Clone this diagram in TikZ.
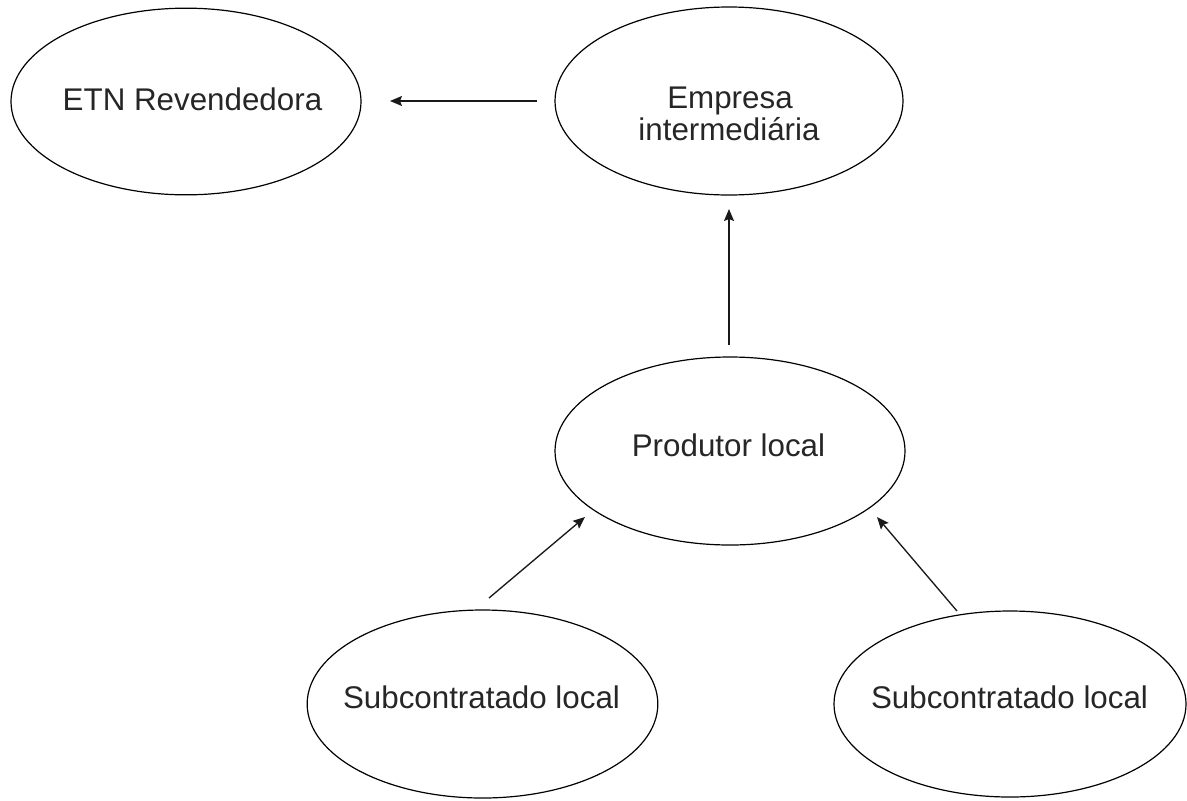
\documentclass[tikz,border=0pt]{standalone}
\usepackage{fontspec}
\setmainfont{Liberation Sans}
\usetikzlibrary{shapes.geometric,arrows.meta}
\begin{document}
\begin{tikzpicture}[x=0.75pt,y=-0.75pt,
  ell/.style={draw=black,line width=0.9pt,ellipse,inner sep=0pt},
  lbl/.style={anchor=base,inner sep=0pt,font=\fontsize{23.5}{24}\selectfont,text=black!85},
  arr/.style={draw=black!90,line width=1pt,-{Stealth[length=9pt,width=7.5pt,inset=1.5pt]}}]
\useasboundingbox (0,0) rectangle (1187,800);
\node[ell,minimum width=262.5pt,minimum height=140pt] (etn) at (186,101.5) {};
\node[ell,minimum width=261pt,minimum height=141pt] (emp) at (729,101) {};
\node[ell,minimum width=262.5pt,minimum height=141pt] (prod) at (730,451) {};
\node[ell,minimum width=263pt,minimum height=141pt] (sub1) at (482.5,704) {};
\node[ell,minimum width=264pt,minimum height=139.5pt] (sub2) at (1010,704) {};
\node[lbl] (tetn) at (192.5,110) {ETN Revendedora};
\node[lbl] (temp1) at (730,108) {Empresa};
\node[lbl] (temp2) at (729,140) {intermediária};
\node[lbl] (tprod) at (728.5,456) {Produtor local};
\node[lbl] (tsub1) at (481.5,708) {Subcontratado local};
\node[lbl] (tsub2) at (1009.5,708) {Subcontratado local};
\coordinate (a1s) at (537,101);
\coordinate (a1e) at (390,101);
\coordinate (a2s) at (729,345);
\coordinate (a2e) at (729,209);
\coordinate (a3s) at (489,598);
\coordinate (a3e) at (585,517);
\coordinate (a4s) at (957,611);
\coordinate (a4e) at (877,517);
\draw[arr] (a1s) -- (a1e);
\draw[arr] (a2s) -- (a2e);
\draw[arr] (a3s) -- (a3e);
\draw[arr] (a4s) -- (a4e);
\end{tikzpicture}
\end{document}
